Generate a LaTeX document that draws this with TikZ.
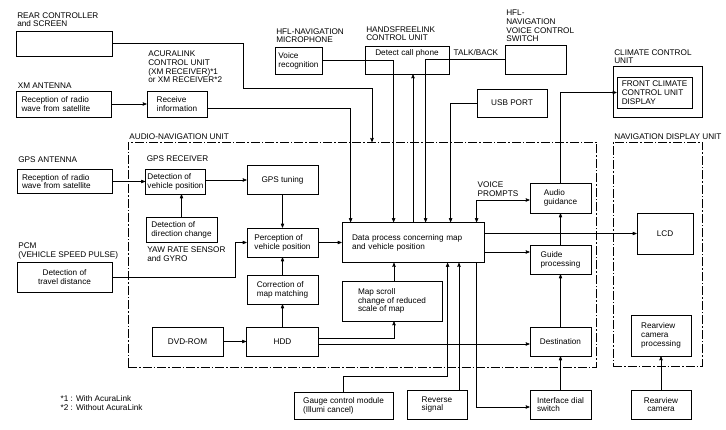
\documentclass[tikz,border=0pt]{standalone}
\usepackage{fontspec}
\setmainfont{Liberation Sans}
\usetikzlibrary{arrows}

\begin{document}
\begin{tikzpicture}[x=1pt,y=-1pt,>=stealth',font=\fontsize{8.2}{8.8}\selectfont,
  blk/.style={draw,line width=0.8pt,inner sep=2pt,align=left},
  blkl/.style={blk,text width=#1},
  lbl/.style={inner sep=1.5pt,align=left},
  unit/.style={draw,line width=0.6pt,dash pattern=on 9pt off 2pt on 1.5pt off 2pt},
  conn/.style={->,line width=0.55pt}]
\useasboundingbox (0,0) rectangle (726,430);
% dashed units
\node[unit,minimum width=468pt,minimum height=225pt,label={[lbl,anchor=south west]north west:AUDIO-NAVIGATION UNIT}] (ANU) at (362,254.5) {};
\node[unit,minimum width=89pt,minimum height=224pt,label={[lbl,anchor=south west]north west:NAVIGATION DISPLAY UNIT}] (NDU) at (657.5,254) {};
% outside units, top row
\node[blk,minimum width=96pt,minimum height=25pt,label={[lbl,anchor=south west,yshift=2pt]north west:REAR CONTROLLER\\and SCREEN}] (Rear) at (64,43.5) {};
\node[blkl=85pt,minimum width=95pt,minimum height=26pt,label={[lbl,anchor=south west]north west:XM ANTENNA}] (XM) at (64,104) {Reception of radio\\wave from satellite};
\node[blk,minimum width=60pt,minimum height=26pt,label={[lbl,anchor=south west,yshift=6pt]north west:ACURALINK\\CONTROL UNIT\\(XM RECEIVER)*1\\or XM RECEIVER*2}] (Recv) at (177,104) {Receive\\information};
\node[blk,minimum width=47pt,minimum height=27pt,label={[lbl,anchor=south west,yshift=2pt]north west:HFL-NAVIGATION\\MICROPHONE}] (Voice) at (298.5,60.5) {Voice\\recognition};
\node[blk,minimum width=84pt,minimum height=28pt,label={[lbl,anchor=south west,yshift=3pt]north west:HANDSFREELINK\\CONTROL UNIT},label={[lbl,anchor=north,yshift=-2pt]north:Detect call phone}] (HFL) at (407,60) {};
\node[blk,minimum width=61pt,minimum height=29pt,label={[lbl,anchor=south west,yshift=1pt]north west:HFL-\\NAVIGATION\\VOICE CONTROL\\SWITCH}] (Sw) at (535.5,59.5) {};
\node[lbl,anchor=west] (TB) at (452,53) {TALK/BACK};
\node[blk,minimum width=70pt,minimum height=28pt] (USB) at (512,103) {USB PORT};
\node[blk,minimum width=89pt,minimum height=51pt,label={[lbl,anchor=south west]north west:CLIMATE CONTROL\\UNIT}] (Clim) at (657.5,91.5) {};
\node[blk,minimum width=75pt,minimum height=31pt] (Disp) at (654.5,92.5) {FRONT CLIMATE\\CONTROL UNIT\\DISPLAY};
% left column
\node[blkl=85pt,minimum width=95pt,minimum height=24pt,label={[lbl,anchor=south west,yshift=5pt]north west:GPS ANTENNA}] (GPSa) at (64.5,181.5) {Reception of radio\\wave from satellite};
\node[blk,align=center,minimum width=95pt,minimum height=30pt,label={[lbl,anchor=south west,yshift=1pt]north west:PCM\\(VEHICLE SPEED PULSE)}] (Trav) at (64.5,277) {Detection of\\travel distance};
% audio-navigation unit
\node[blk,minimum width=59pt,minimum height=25pt,label={[lbl,anchor=south west,yshift=5pt]north west:GPS RECEIVER}] (Det) at (175.5,181.5) {Detection of\\vehicle position};
\node[blk,minimum width=71pt,minimum height=25pt,label={[lbl,anchor=north west,yshift=-3pt]south west:YAW RATE SENSOR\\and GYRO}] (Dir) at (181.5,229.5) {Detection of\\direction change};
\node[blk,minimum width=71pt,minimum height=29pt] (Tune) at (282.5,180) {GPS tuning};
\node[blk,minimum width=71pt,minimum height=29pt] (Perc) at (282.5,242.5) {Perception of\\vehicle position};
\node[blk,minimum width=71pt,minimum height=29pt] (Corr) at (282.5,289.5) {Correction of\\map matching};
\node[blk,minimum width=72pt,minimum height=29pt] (HDD) at (282.5,341.5) {HDD};
\node[blk,minimum width=71pt,minimum height=29pt] (DVD) at (187.5,341.5) {DVD-ROM};
\node[blkl=122pt,minimum width=142pt,minimum height=40pt] (Data) at (413,242.5) {Data process concerning map\\and vehicle position};
\node[blk,minimum width=100pt,minimum height=40pt] (Map) at (392,301) {Map scroll\\change of reduced\\scale of map};
\node[blk,minimum width=61pt,minimum height=30pt] (Aud) at (560.5,198) {Audio\\guidance};
\node[blk,minimum width=61pt,minimum height=29pt] (Guide) at (560.5,259.5) {Guide\\processing};
\node[blk,minimum width=61pt,minimum height=29pt] (Dest) at (560.5,341.5) {Destination};
\node[lbl,anchor=south west] (VP) at (476,198) {VOICE\\PROMPTS};
% navigation display unit
\node[blk,minimum width=56pt,minimum height=41pt] (LCD) at (665,233.5) {LCD};
\node[blk,minimum width=60pt,minimum height=41pt] (RvP) at (661,335.5) {Rearview\\camera\\processing};
% bottom row
\node[blk,minimum width=99pt,minimum height=27pt] (Gauge) at (343.5,405.5) {Gauge control module\\(Illumi cancel)};
\node[blk,minimum width=60pt,minimum height=29pt] (Rev) at (437,404.5) {Reverse\\signal};
\node[blk,minimum width=61pt,minimum height=29pt] (Dial) at (560.5,404.5) {Interface dial\\switch};
\node[blk,align=center,minimum width=60pt,minimum height=29pt] (RvC) at (661,404.5) {Rearview\\camera};
\node[lbl,anchor=north west] (Note) at (59,394) {*1 : With AcuraLink\\*2 : Without AcuraLink};
% straight connectors
\path (XM) edge[conn] (Recv)
      (GPSa) edge[conn] (Det)
      (Tune) edge[conn] (Perc)
      (Corr) edge[conn] (Perc)
      (HDD) edge[conn] (Corr)
      (DVD) edge[conn] (HDD)
      (Perc) edge[conn] (Data)
      (Guide) edge[conn] (Aud)
      (Dest) edge[conn] (Guide)
      (Dial) edge[conn] (Dest)
      (RvC) edge[conn] (RvP);
% bent connectors
\coordinate (R1) at (243,88);
\coordinate (R2) at (372,142);
\draw[conn] (Rear.east) -| (R1) -| (R2);
\draw[conn] ([yshift=-4pt]Recv.east) -| ([xshift=9pt]Data.north west);
\draw[conn] (Voice.east) -| ([xshift=52pt]Data.north west);
\draw[conn] (Data.north) -- (Data.north |- HFL.south);
\draw[conn] (Sw.west) -| ([xshift=84pt]Data.north west);
\draw[conn] (USB.west) -| ([xshift=109pt]Data.north west);
\draw[<->,line width=0.55pt] ([xshift=135pt]Data.north west) |- ([yshift=-2pt]Aud.west);
\draw[conn] (Aud.north) |- (Disp.west);
\draw[conn] (Det.east |- Tune) -- (Tune.west);
\draw[conn] (Dir.north) -- (Dir.north |- Det.south);
\draw[conn] (Trav.east) -- ++(123,0) |- (Perc.west);
\draw[conn] ([yshift=3.5pt]HDD.east) -| ([xshift=2pt]Map.south);
\draw[conn] ([xshift=2pt]Map.north) -- ([xshift=2pt]Map.north |- Data.south);
\draw[conn] ([yshift=-2.5pt]HDD.east) -- ([yshift=-2.5pt]HDD.east -| Dest.west);
\draw[conn] (Data.east |- LCD.west) -- (LCD.west);
\draw[conn] ([yshift=-9.5pt]Data.east) -- ([yshift=-9.5pt]Data.east -| Guide.west);
\draw[conn] (Gauge.north) -- ++(0,-15) -| ([xshift=106pt]Data.south west);
\draw[conn] ([xshift=22pt]Rev.north) -- ([xshift=22pt]Rev.north |- Data.south);
\draw[conn] ([xshift=135pt]Data.south west) |- ([yshift=-2.5pt]Dial.west);
\end{tikzpicture}
\end{document}
